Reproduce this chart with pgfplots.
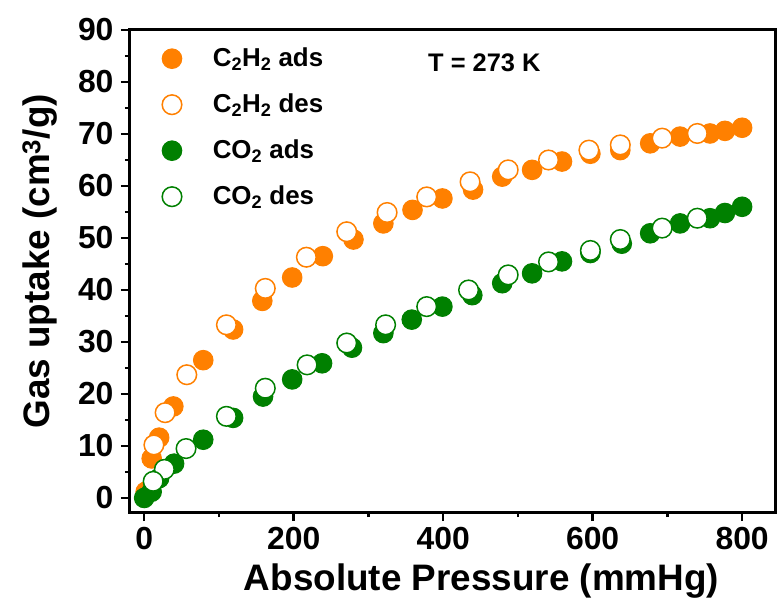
\documentclass[border=0pt]{standalone}
\usepackage{fontspec}
\setmainfont{Liberation Sans}
\usepackage{pgfplots}
\pgfplotsset{compat=1.18}
\definecolor{corange}{RGB}{255,128,0}
\definecolor{cgreen}{RGB}{0,128,0}
\begin{document}
\begin{tikzpicture}
\begin{axis}[
  scale only axis,
  width=645bp, height=482bp,
  xmin=-19, xmax=844, ymin=-2.7, ymax=90,
  xtick={0,200,400,600,800}, minor xtick={100,300,500,700},
  ytick={0,10,...,90}, minor ytick={5,15,...,85},
  tick align=outside, tick pos=left,
  major tick length=9bp, minor tick length=5bp,
  every tick/.style={line width=2.5bp, black},
  axis line style={line width=3bp},
  /pgf/number format/assume math mode=true,
  tick label style={font=\fontsize{32}{32}\selectfont\bfseries},
  xticklabel style={yshift=-3bp},
  yticklabel style={xshift=-4bp},
  xlabel={Absolute Pressure (mmHg)},
  ylabel={Gas uptake (cm\textsuperscript{3}/g)},
  label style={font=\fontsize{37}{37}\selectfont\bfseries},
  xlabel style={at={(axis description cs:0.545,-0.143)}, anchor=center},
  ylabel style={at={(axis description cs:-0.140,0.52)}, anchor=center},
  legend style={at={(axis description cs:0,1)}, xshift=32bp, yshift=-17bp, anchor=north west,
    draw=none, fill=none, font=\fontsize{26}{26}\selectfont\bfseries,
    row sep=23bp, column sep=31bp, inner sep=0pt,
    nodes={inner sep=0pt, text height=19bp, text depth=4bp}},
  legend cell align=left,
  legend image code/.code={\draw[#1] plot coordinates {(0bp,0bp)};},
]
\addplot[only marks, mark=*, mark size=9.8bp, mark options={fill=corange, draw=corange, line width=1bp}] coordinates {
(2,1.2) (10,7.6) (20,11.6) (39,17.6) (79,26.5) (119,32.4) (158,37.9) (198,42.4)
(239,46.5) (280,49.7) (320,52.8) (359,55.4) (399,57.6) (440,59.3) (479,61.8)
(519,63.1) (559,64.7) (597,66.2) (637,66.9) (677,68.2) (717,69.5) (757,70.1)
(777,70.6) (800,71.2)};
\addlegendentry{C\textsubscript{2}H\textsubscript{2} ads}
\addplot[only marks, mark=*, mark size=9.8bp, mark options={fill=white, draw=corange, line width=1.5bp}] coordinates {
(740,70.1) (693,69.2) (637,67.9) (595,66.9) (541,65.0) (487,63.1) (436,60.8)
(378,57.9) (325,54.9) (271,51.2) (217,46.3) (162,40.3) (110,33.3) (57,23.7)
(28,16.4) (13,10.2)};
\addlegendentry{C\textsubscript{2}H\textsubscript{2} des}
\addplot[only marks, mark=*, mark size=9.8bp, mark options={fill=cgreen, draw=cgreen, line width=1bp}] coordinates {
(0,0) (10,1.2) (20,3.8) (40,6.6) (79,11.2) (119,15.4) (159,19.5) (198,22.8)
(238,25.9) (278,28.9) (320,31.7) (358,34.3) (399,36.8) (439,39.0) (479,41.3)
(519,43.2) (559,45.5) (597,47.1) (639,48.9) (677,50.9) (717,52.8) (757,53.8)
(777,54.8) (800,56.0)};
\addlegendentry{CO\textsubscript{2} ads}
\addplot[only marks, mark=*, mark size=9.8bp, mark options={fill=white, draw=cgreen, line width=1.5bp}] coordinates {
(740,53.8) (693,51.9) (637,49.7) (597,47.6) (541,45.4) (487,42.9) (434,40.0)
(378,36.8) (323,33.3) (271,29.8) (218,25.6) (162,21.1) (110,15.7) (56,9.5)
(27,5.5) (12,3.2)};
\addlegendentry{CO\textsubscript{2} des}
\node[anchor=west, font=\fontsize{25.5}{25.5}\selectfont\bfseries, inner sep=0pt] at (axis description cs:0.462,0.932) {T = 273 K};
\coordinate (sw) at (axis description cs:0,0);
\coordinate (ne) at (axis description cs:1,1);
\end{axis}
\pgfresetboundingbox
\path[use as bounding box] ([xshift=-130bp,yshift=-96bp]sw) rectangle ([xshift=3bp,yshift=30bp]ne);
\end{tikzpicture}
\end{document}
